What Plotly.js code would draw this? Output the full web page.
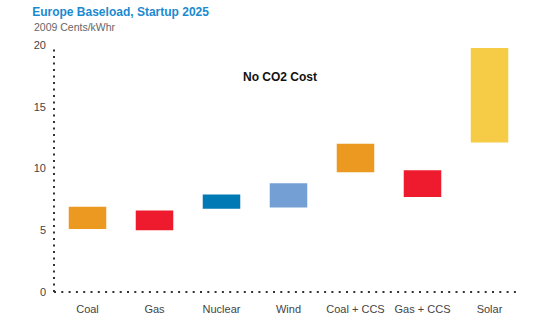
<!DOCTYPE html>
<html><head><meta charset="utf-8">
<script src="https://cdn.plot.ly/plotly-3.0.1.min.js"></script>
<style>html,body{margin:0;padding:0;background:#fff}#chart{width:555px;height:323px}</style>
</head><body><div id="chart"></div>
<script>
const categories = ["Coal", "Gas", "Nuclear", "Wind", "Coal + CCS", "Gas + CCS", "Solar"];
const lowCost = [5.1, 5.0, 6.75, 6.85, 9.7, 7.7, 12.1];
const highCost = [6.9, 6.6, 7.9, 8.8, 12.0, 9.85, 19.75];
const barColors = ["#EC9921", "#EE1B2F", "#0079B5", "#749FD4", "#EC9921", "#EE1B2F", "#F6CB45"];
const yTicks = [0, 5, 10, 15, 20];

const trace = {
  type: "bar",
  x: categories,
  base: lowCost,
  y: highCost.map((h, i) => h - lowCost[i]),
  marker: { color: barColors, line: { width: 0 } },
  width: 0.56,
  hoverinfo: "skip"
};

const layout = {
  width: 555, height: 323,
  margin: { l: 54, r: 32, t: 45, b: 31 },
  paper_bgcolor: "#fff", plot_bgcolor: "#fff",
  showlegend: false,
  font: { family: "Liberation Sans, Arial, sans-serif", size: 11, color: "#444" },
  title: {
    text: "Europe Baseload, Startup 2025",
    xref: "container", yref: "container",
    x: 0.058, xanchor: "left", y: 0.963, yanchor: "middle",
    font: { size: 12, color: "#1A8AD0", family: "Liberation Sans, Arial, sans-serif", weight: "bold" }
  },
  xaxis: {
    range: [-0.5, 6.5], showgrid: false, zeroline: false, showline: false,
    ticks: "", tickfont: { size: 11, color: "#444" }, ticklabelstandoff: 9, fixedrange: true
  },
  yaxis: {
    range: [0, 20], tickvals: yTicks, ticktext: yTicks.map(String),
    showgrid: false, zeroline: false, showline: false, ticks: "",
    tickfont: { size: 11, color: "#444" }, ticklabelstandoff: 7, fixedrange: true
  },
  shapes: [
    { type: "line", xref: "paper", yref: "paper", x0: 0, x1: 0, y0: 0, y1: 1,
      line: { color: "#333", width: 2, dash: "2px,4.5px" } },
    { type: "line", xref: "paper", yref: "paper", x0: 0, x1: 0.99, y0: 0, y1: 0,
      line: { color: "#333", width: 2, dash: "2px,5.3px" } }
  ],
  annotations: [
    { text: "2009 Cents/kWhr", xref: "paper", yref: "paper", x: -0.047, y: 1.073,
      xanchor: "left", yanchor: "middle", showarrow: false,
      font: { size: 10.5, color: "#666" } },
    { text: "No CO2 Cost", xref: "paper", yref: "paper", x: 0.481, y: 0.872,
      xanchor: "center", yanchor: "middle", showarrow: false,
      font: { size: 12, color: "#111", weight: "bold" } }
  ]
};

Plotly.newPlot("chart", [trace], layout, { displayModeBar: false, staticPlot: true });
</script></body></html>
